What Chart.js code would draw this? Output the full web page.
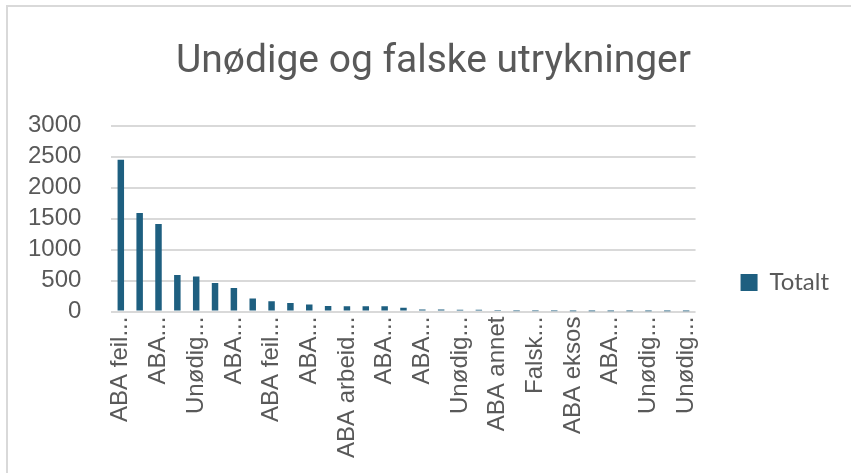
<!DOCTYPE html>
<html>
<head>
<meta charset="utf-8">
<script src="https://cdn.jsdelivr.net/npm/chart.js@4"></script>
<style>
    body { margin: 0; background: #ffffff; }
    #wrap { position: relative; width: 851px; height: 473px; overflow: hidden; }
    #frame { position: absolute; left: 6px; top: 5px; width: 900px; height: 600px;
             border: 2px solid #d9d9d9; pointer-events: none; }
</style>
</head>
<body>
<div id="wrap">
    <canvas id="chartCanvas" width="851" height="473"></canvas>
    <div id="frame"></div>
</div>
<script>
// данные графика
const categories = [
    "ABA feil...", "ABA...", "ABA...", "Unødig...", "Unødig...", "ABA...",
    "ABA...", "ABA...", "ABA feil...", "ABA...", "ABA...", "ABA...",
    "ABA arbeid...", "ABA...", "ABA...", "ABA...", "ABA...", "Unødig...",
    "Unødig...", "ABA...", "ABA annet", "Falsk...", "Falsk...", "ABA...",
    "ABA eksos", "ABA...", "ABA...", "Unødig...", "Unødig...", "Unødig...",
    "Unødig..."
];
const totals = [
    2450, 1590, 1415, 590, 565, 462, 382, 212, 165, 138, 115, 90, 88, 88, 86,
    63, 33, 32, 31, 30, 8, 6, 5, 4, 3, 3, 2, 2, 1, 1, 1
];
const yTicks = [0, 500, 1000, 1500, 2000, 2500, 3000];
const seriesName = "Totalt";
const chartTitle = "Unødige og falske utrykninger";

const textColor = "#595959";
const gridColor = "#d9d9d9";
const barColor = "#1e5f80";

// сдвиг легенды и заголовка, как в Excel
const blockPlacer = {
    id: "blockPlacer",
    afterLayout(chart) {
        const lg = chart.legend;
        const pad = lg.options.labels.padding;
        const dx = (chart.chartArea.right + 45) - (lg.left + pad);
        lg.left += dx;
        lg.right += dx;
        const dy = (chart.height * 0.5 + 46) - (lg.top + lg.bottom) / 2;
        lg.top += dy;
        lg.bottom += dy;

        const tb = chart.titleBlock;
        const tx = (chart.width * 0.5 + 8) - (tb.left + tb.right) / 2;
        tb.left += tx;
        tb.right += tx;
    }
};

const ctx = document.getElementById("chartCanvas").getContext("2d");
new Chart(ctx, {
    type: "bar",
    data: {
        labels: categories,
        datasets: [{
            label: seriesName,
            data: totals,
            backgroundColor: barColor,
            borderWidth: 0,
            categoryPercentage: 0.8,
            barPercentage: 0.43
        }]
    },
    options: {
        responsive: false,
        animation: false,
        devicePixelRatio: 1,
        layout: { padding: { left: -2, right: 47, top: 0, bottom: 10 } },
        plugins: {
            title: {
                display: true,
                text: chartTitle,
                color: textColor,
                font: { family: "Roboto", size: 39, weight: "normal" },
                padding: { top: 39, bottom: 40 }
            },
            legend: {
                position: "right",
                labels: {
                    boxWidth: 17,
                    boxHeight: 17,
                    padding: 10,
                    color: textColor,
                    font: { family: "Lato", size: 24 }
                }
            },
            tooltip: { enabled: false }
        },
        scales: {
            x: {
                grid: { display: false, drawTicks: false },
                border: { display: false },
                ticks: {
                    autoSkip: false,
                    minRotation: 90,
                    maxRotation: 90,
                    padding: 5,
                    color: textColor,
                    font: { family: "Liberation Sans", size: 24 },
                    // подписи только у каждой второй категории
                    callback: (value, index) => index % 2 === 0 ? categories[index] : ""
                }
            },
            y: {
                min: yTicks[0],
                max: yTicks[yTicks.length - 1],
                grid: { color: gridColor, lineWidth: 2, drawTicks: false },
                border: { display: false },
                // деления оси y задаются явно
                afterBuildTicks: axis => { axis.ticks = yTicks.map(v => ({ value: v })); },
                ticks: {
                    autoSkip: false,
                    padding: 30,
                    color: textColor,
                    font: { family: "Liberation Sans", size: 24 },
                    callback: value => String(value)
                }
            }
        }
    },
    plugins: [blockPlacer]
});
</script>
</body>
</html>
